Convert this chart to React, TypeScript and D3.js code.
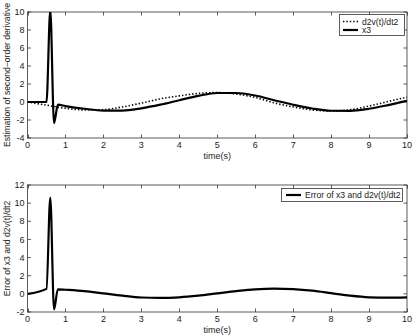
import React, { useRef, useEffect } from "react";
import * as d3 from "d3";

// top panel: d2v(t)/dt2 (dotted) and x3 (solid)
const d2vT = [0, 0.5, 1, 1.5, 2, 2.5, 3, 3.5, 4, 4.5, 5, 5.5, 6, 6.5, 7, 7.5, 8, 8.5, 9, 9.5, 10];
const d2vV = [0, -0.35, -0.7, -0.88, -0.85, -0.55, -0.12, 0.35, 0.68, 0.95, 1.05, 0.88, 0.5, -0.1, -0.55, -0.88, -1.0, -0.87, -0.45, 0.05, 0.55];

const x3T = [0, 0.5, 0.6, 0.7, 0.8, 1, 1.5, 2, 2.5, 3, 3.5, 4, 4.5, 5, 5.5, 6, 6.5, 7, 7.5, 8, 8.5, 9, 9.5, 10];
const x3V = [0, 0, 10.2, -2.35, -0.3, -0.45, -0.75, -0.95, -0.95, -0.7, -0.3, 0.2, 0.68, 1.0, 1.0, 0.72, 0.2, -0.3, -0.72, -0.97, -0.98, -0.75, -0.35, 0.12];

// bottom panel: error
const errT = [0, 0.5, 0.6, 0.7, 0.8, 1, 1.5, 2, 2.5, 3, 3.5, 4, 4.5, 5, 5.5, 6, 6.5, 7, 7.5, 8, 8.5, 9, 9.5, 10];
const errV = [0, 0.55, 10.6, -1.7, 0.5, 0.45, 0.3, 0.05, -0.2, -0.4, -0.45, -0.38, -0.2, 0.05, 0.3, 0.5, 0.58, 0.52, 0.35, 0.08, -0.2, -0.38, -0.42, -0.38];

const xTicks = [0, 1, 2, 3, 4, 5, 6, 7, 8, 9, 10];
const topYTicks = [-4, -2, 0, 2, 4, 6, 8, 10];
const botYTicks = [-2, 0, 2, 4, 6, 8, 10, 12];

const W = 415;
const H = 336;
const FONT = "'Liberation Sans', Arial, sans-serif";

const App = () => {
  const svgRef = useRef(null);

  useEffect(() => {
    const root = d3.select(svgRef.current);
    root.selectAll("*").remove();

    const drawPanel = (opts) => {
      const { top, bottom, yDomain, yTicks, ylabel, id } = opts;
      const left = 27.5;
      const right = 407;
      const x = d3.scaleLinear().domain([0, 10]).range([left, right]);
      const y = d3.scaleLinear().domain(yDomain).range([bottom, top]);
      const g = root.append("g");

      g.append("clipPath")
        .attr("id", id)
        .append("rect")
        .attr("x", left)
        .attr("y", top)
        .attr("width", right - left)
        .attr("height", bottom - top);

      // box
      g.append("rect")
        .attr("x", left)
        .attr("y", top)
        .attr("width", right - left)
        .attr("height", bottom - top)
        .attr("fill", "white")
        .attr("stroke", "#333")
        .attr("stroke-width", 0.8);

      const tl = 3.5;
      xTicks.forEach((t) => {
        const px = Math.round(x(t)) + 0.5;
        g.append("line").attr("x1", px).attr("x2", px).attr("y1", bottom).attr("y2", bottom - tl).attr("stroke", "#333").attr("stroke-width", 0.8);
        g.append("line").attr("x1", px).attr("x2", px).attr("y1", top).attr("y2", top + tl).attr("stroke", "#333").attr("stroke-width", 0.8);
        g.append("text")
          .attr("x", x(t))
          .attr("y", bottom + 10)
          .attr("text-anchor", "middle")
          .attr("font-size", 9)
          .attr("font-family", FONT)
          .attr("fill", "#222")
          .text(t);
      });
      yTicks.forEach((v) => {
        const py = y(v);
        g.append("line").attr("x1", left).attr("x2", left + tl).attr("y1", py).attr("y2", py).attr("stroke", "#333").attr("stroke-width", 0.8);
        g.append("line").attr("x1", right).attr("x2", right - tl).attr("y1", py).attr("y2", py).attr("stroke", "#333").attr("stroke-width", 0.8);
        g.append("text")
          .attr("x", left - 3)
          .attr("y", py + 3.2)
          .attr("text-anchor", "end")
          .attr("font-size", 9)
          .attr("font-family", FONT)
          .attr("fill", "#222")
          .text(v < 0 ? "-" + Math.abs(v) : v);
      });

      g.append("text")
        .attr("x", (left + right) / 2)
        .attr("y", bottom + 21)
        .attr("text-anchor", "middle")
        .attr("font-size", 9)
        .attr("font-family", FONT)
        .attr("fill", "#222")
        .text("time(s)");

      g.append("text")
        .attr("transform", `translate(10,${(top + bottom) / 2}) rotate(-90)`)
        .attr("text-anchor", "middle")
        .attr("font-size", 8.6)
        .attr("font-family", FONT)
        .attr("fill", "#222")
        .text(ylabel);

      const line = (ts, vs) =>
        d3
          .line()
          .x((d, i) => x(ts[i]))
          .y((d) => y(d))
          .curve(d3.curveMonotoneX)(vs);

      return { g, x, y, line };
    };

    // top panel
    const p1 = drawPanel({
      top: 12,
      bottom: 138,
      yDomain: [-4, 10],
      yTicks: topYTicks,
      ylabel: "Estimation of second\u2212order derivative",
      id: "clipTop",
    });
    p1.g.append("path")
      .attr("d", p1.line(d2vT, d2vV))
      .attr("fill", "none")
      .attr("stroke", "#000")
      .attr("stroke-width", 1.6)
      .attr("stroke-dasharray", "1.4,2")
      .attr("clip-path", "url(#clipTop)");
    p1.g.append("path")
      .attr("d", p1.line(x3T, x3V))
      .attr("fill", "none")
      .attr("stroke", "#000")
      .attr("stroke-width", 2.2)
      .attr("stroke-linejoin", "round")
      .attr("clip-path", "url(#clipTop)");

    // legend top
    const lg1 = p1.g.append("g");
    lg1.append("rect").attr("x", 339.5).attr("y", 14.5).attr("width", 65).attr("height", 21).attr("fill", "white").attr("stroke", "#333").attr("stroke-width", 0.8);
    lg1.append("line").attr("x1", 343).attr("x2", 358).attr("y1", 21.5).attr("y2", 21.5).attr("stroke", "#000").attr("stroke-width", 1.6).attr("stroke-dasharray", "1.4,2");
    lg1.append("line").attr("x1", 343).attr("x2", 358).attr("y1", 30).attr("y2", 30).attr("stroke", "#000").attr("stroke-width", 2.2);
    lg1.append("text").attr("x", 362).attr("y", 24.5).attr("font-size", 8.6).attr("font-family", FONT).attr("fill", "#222").text("d2v(t)/dt2");
    lg1.append("text").attr("x", 362).attr("y", 33).attr("font-size", 8.6).attr("font-family", FONT).attr("fill", "#222").text("x3");

    // bottom panel
    const p2 = drawPanel({
      top: 185,
      bottom: 312,
      yDomain: [-2, 12],
      yTicks: botYTicks,
      ylabel: "Error of x3 and d2v(t)/dt2",
      id: "clipBot",
    });
    p2.g.append("path")
      .attr("d", p2.line(errT, errV))
      .attr("fill", "none")
      .attr("stroke", "#000")
      .attr("stroke-width", 2.2)
      .attr("stroke-linejoin", "round")
      .attr("clip-path", "url(#clipBot)");

    const lg2 = p2.g.append("g");
    lg2.append("rect").attr("x", 281.5).attr("y", 188.5).attr("width", 121).attr("height", 13).attr("fill", "white").attr("stroke", "#333").attr("stroke-width", 0.8);
    lg2.append("line").attr("x1", 286).attr("x2", 301).attr("y1", 195).attr("y2", 195).attr("stroke", "#000").attr("stroke-width", 2.2);
    lg2.append("text").attr("x", 305).attr("y", 198).attr("font-size", 8.6).attr("font-family", FONT).attr("fill", "#222").text("Error of x3 and d2v(t)/dt2");
  }, []);

  return (
    <svg
      ref={svgRef}
      width={W}
      height={H}
      style={{ position: "absolute", left: 0, top: 0, background: "white" }}
    ></svg>
  );
};

export default App;
